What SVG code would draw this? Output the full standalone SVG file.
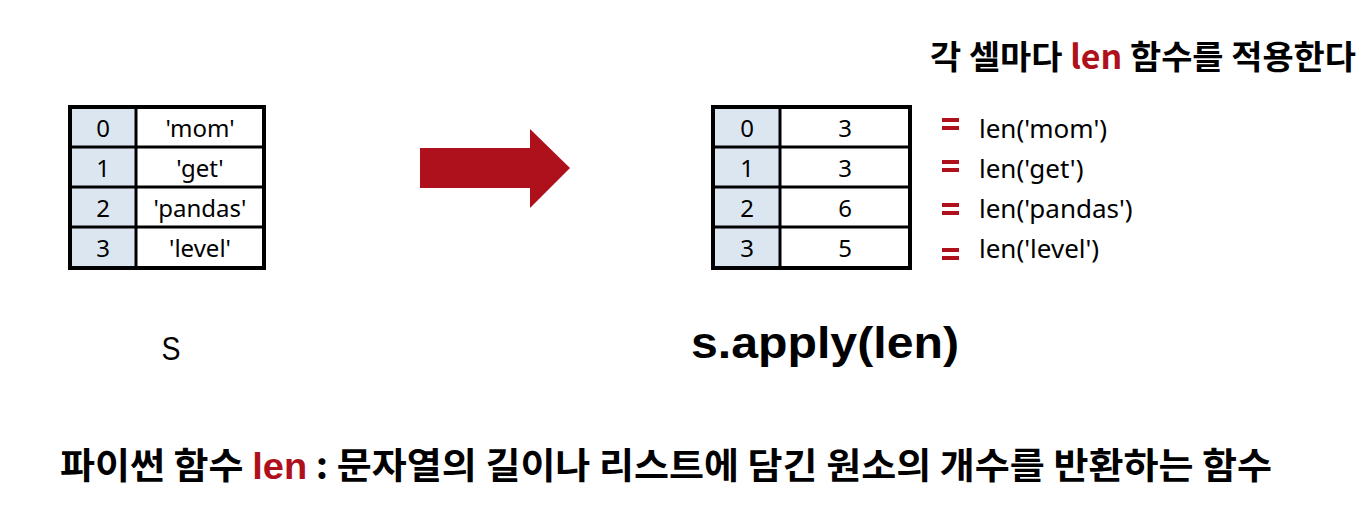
<svg xmlns="http://www.w3.org/2000/svg" width="1364" height="525" viewBox="0 0 1364 525">
<style>
.idx{fill:#dce6f0}
.cell{fill:#ffffff}
.grid{fill:none;stroke:#000;stroke-width:3}
.outer{fill:none;stroke:#000;stroke-width:4}
.t{font-family:"Noto Sans","Liberation Sans",sans-serif;font-size:24px;fill:#000;text-anchor:middle}
.f{font-family:"Noto Sans","Liberation Sans",sans-serif;font-size:26px;fill:#000}
.red{fill:#af111c}
.kr{font-family:"Noto Sans CJK KR",sans-serif;font-weight:bold;fill:#000}
</style>
<rect width="1364" height="525" fill="#fff"/>
<g id="table-s">
<rect class="idx" x="70" y="107" width="66" height="161"/>
<rect class="cell" x="136" y="107" width="128" height="161"/>
<path class="grid" d="M70 147H264M70 187H264M70 227H264M136 107V268"/>
<rect class="outer" x="70" y="107" width="194" height="161"/>
<text class="t" x="103" y="137">0</text><text class="t" x="200" y="137">'mom'</text>
<text class="t" x="103" y="177">1</text><text class="t" x="200" y="177">'get'</text>
<text class="t" x="103" y="217">2</text><text class="t" x="200" y="217">'pandas'</text>
<text class="t" x="103" y="257">3</text><text class="t" x="200" y="257">'level'</text>
</g>
<g id="connectors">
<polygon class="red" points="420,148 530,148 530,129 570,168 530,208 530,188 420,188"/>
</g>
<g id="table-result">
<rect class="idx" x="713" y="107" width="67" height="161"/>
<rect class="cell" x="780" y="107" width="130" height="161"/>
<path class="grid" d="M713 147H910M713 187H910M713 227H910M780 107V268"/>
<rect class="outer" x="713" y="107" width="197" height="161"/>
<text class="t" x="747" y="137">0</text><text class="t" x="845" y="137">3</text>
<text class="t" x="747" y="177">1</text><text class="t" x="845" y="177">3</text>
<text class="t" x="747" y="217">2</text><text class="t" x="845" y="217">6</text>
<text class="t" x="747" y="257">3</text><text class="t" x="845" y="257">5</text>
</g>
<g id="title">
<text class="kr" x="930" y="69" font-size="33" textLength="426" lengthAdjust="spacingAndGlyphs">각 셀마다 <tspan class="red">len</tspan> 함수를 적용한다</text>
</g>
<g id="explanations">
<rect class="red" x="942" y="118" width="17" height="4"/><rect class="red" x="942" y="126" width="17" height="4"/>
<rect class="red" x="942" y="160" width="17" height="4"/><rect class="red" x="942" y="168" width="17" height="4"/>
<rect class="red" x="942" y="203" width="17" height="4"/><rect class="red" x="942" y="211" width="17" height="4"/>
<rect class="red" x="942" y="248" width="17" height="4"/><rect class="red" x="942" y="256" width="17" height="4"/>
<text class="f" x="979" y="138">len('mom')</text>
<text class="f" x="979" y="178">len('get')</text>
<text class="f" x="979" y="218">len('pandas')</text>
<text class="f" x="979" y="258">len('level')</text>
</g>
<g id="label-s">
<text x="171" y="360" font-family="Liberation Sans,sans-serif" font-size="34" text-anchor="middle" textLength="19" lengthAdjust="spacingAndGlyphs">S</text>
</g>
<g id="label-apply">
<text x="825" y="358" font-family="Liberation Sans,sans-serif" font-weight="bold" font-size="45" text-anchor="middle" textLength="268" lengthAdjust="spacingAndGlyphs">s.apply(len)</text>
</g>
<g id="caption">
<text class="kr" x="60" y="479" font-size="36" textLength="1212" lengthAdjust="spacingAndGlyphs">파이썬 함수 <tspan class="red" font-family="Liberation Sans,sans-serif">len</tspan> : 문자열의 길이나 리스트에 담긴 원소의 개수를 반환하는 함수</text>
</g>
</svg>
